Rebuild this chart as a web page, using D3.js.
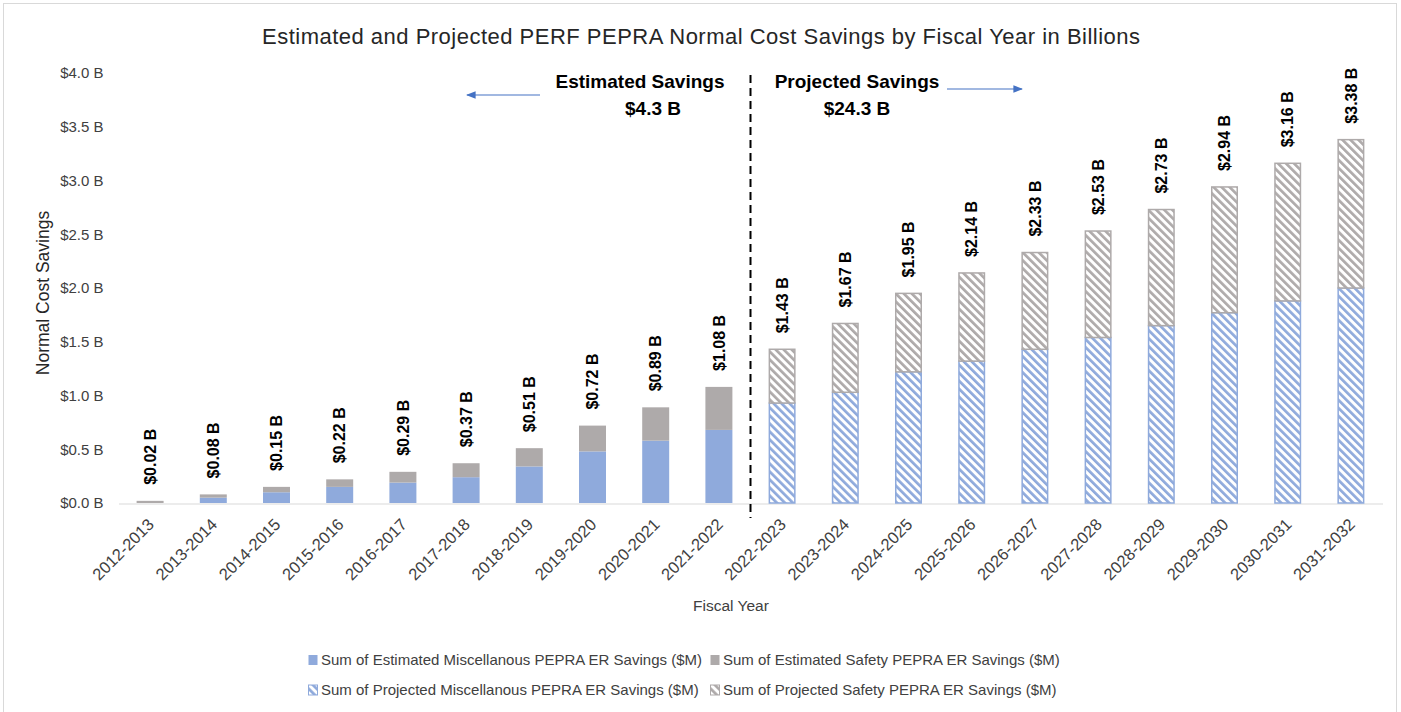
<!DOCTYPE html>
<html lang="en">
<head>
<meta charset="UTF-8">
<title>PEPRA Normal Cost Savings</title>
<script src="https://d3js.org/d3.v7.min.js"></script>
<style>
    body { margin: 0; background: #fff; }
    text { font-family: "Liberation Sans", "DejaVu Sans", sans-serif; }
</style>
</head>
<body>
<script>

    // data (billions)
    var years = ["2012-2013", "2013-2014", "2014-2015", "2015-2016", "2016-2017",
        "2017-2018", "2018-2019", "2019-2020", "2020-2021", "2021-2022",
        "2022-2023", "2023-2024", "2024-2025", "2025-2026", "2026-2027",
        "2027-2028", "2028-2029", "2029-2030", "2030-2031", "2031-2032"];
    var estimatedYears = years.slice(0, 10);
    var projectedYears = years.slice(10);

    var estimatedMisc = [0.00, 0.05, 0.10, 0.15, 0.19, 0.24, 0.34, 0.48, 0.58, 0.68];
    var estimatedSafety = [0.02, 0.03, 0.05, 0.07, 0.10, 0.13, 0.17, 0.24, 0.31, 0.40];
    var projectedMisc = [0.93, 1.03, 1.22, 1.32, 1.43, 1.54, 1.65, 1.77, 1.88, 2.00];
    var projectedSafety = [0.50, 0.64, 0.73, 0.82, 0.90, 0.99, 1.08, 1.17, 1.28, 1.38];

    var yTicks = [0, 0.5, 1, 1.5, 2, 2.5, 3, 3.5, 4];
    var legendLabels = [
        "Sum of Estimated Miscellanous PEPRA ER Savings ($M)",
        "Sum of Estimated Safety PEPRA ER Savings ($M)",
        "Sum of Projected Miscellanous PEPRA ER Savings ($M)",
        "Sum of Projected Safety PEPRA ER Savings ($M)"];

    var blue = "#8faadc", grey = "#aeaaaa";

    var svg = d3.select("body").append("svg")
        .attr("width", 1401)
        .attr("height", 712);

    // hatch patterns for projected series
    var defs = svg.append("defs");
    [["hatchBlue", blue], ["hatchGrey", grey]].forEach(function (p) {
        var pat = defs.append("pattern")
            .attr("id", p[0])
            .attr("patternUnits", "userSpaceOnUse")
            .attr("width", 5.66)
            .attr("height", 10)
            .attr("patternTransform", "rotate(-45)");
        pat.append("rect").attr("width", 5.66).attr("height", 10).attr("fill", "#fff");
        pat.append("rect").attr("width", 2.7).attr("height", 10).attr("fill", p[1]);
    });

    // chart border
    svg.append("rect")
        .attr("x", 3.5).attr("y", 3.5)
        .attr("width", 1393).attr("height", 712)
        .attr("fill", "none")
        .attr("stroke", "#d9d9d9");

    var x = d3.scaleBand()
        .domain(years)
        .range([118.5, 1382.5])
        .paddingInner(0.573)
        .paddingOuter(0.2865);

    var y = d3.scaleLinear()
        .domain([0, 4])
        .range([503, 73]);

    // title
    svg.append("text")
        .attr("x", 701).attr("y", 44)
        .attr("text-anchor", "middle")
        .attr("font-size", "22px")
        .attr("textLength", 878)
        .attr("lengthAdjust", "spacing")
        .attr("fill", "#262626")
        .text("Estimated and Projected PERF PEPRA Normal Cost Savings by Fiscal Year in Billions");

    // y axis
    var yAxis = svg.append("g")
        .attr("transform", "translate(118.5,0)")
        .call(d3.axisLeft(y).tickValues(yTicks).tickSize(0).tickPadding(15)
            .tickFormat(function (d) { return "$" + d.toFixed(1) + " B"; }));
    yAxis.select(".domain").remove();
    yAxis.selectAll("text")
        .attr("font-size", "15px")
        .attr("fill", "#404040")
        .style("font-family", "Liberation Sans, sans-serif");

    svg.append("text")
        .attr("transform", "translate(49,293) rotate(-90)")
        .attr("text-anchor", "middle")
        .attr("font-size", "17.5px")
        .attr("fill", "#262626")
        .text("Normal Cost Savings");

    // x axis
    var xAxis = svg.append("g")
        .attr("transform", "translate(0,503.5)")
        .call(d3.axisBottom(x).tickSize(0).tickSizeOuter(0));
    xAxis.select(".domain").attr("stroke", "#d9d9d9");
    xAxis.selectAll("text")
        .attr("font-size", "16.5px")
        .attr("fill", "#404040")
        .attr("text-anchor", "end")
        .attr("y", 0)
        .attr("dy", 0)
        .attr("transform", "translate(5,22) rotate(-45)")
        .style("font-family", "Liberation Sans, sans-serif");

    svg.append("text")
        .attr("x", 731).attr("y", 611)
        .attr("text-anchor", "middle")
        .attr("font-size", "15.5px")
        .attr("fill", "#404040")
        .text("Fiscal Year");

    // stacked bars
    var estRows = estimatedYears.map(function (yr, i) {
        return { year: yr, misc: estimatedMisc[i], safety: estimatedSafety[i] };
    });
    var projRows = projectedYears.map(function (yr, i) {
        return { year: yr, misc: projectedMisc[i], safety: projectedSafety[i] };
    });
    var stack = d3.stack().keys(["misc", "safety"]);

    var estColors = { misc: blue, safety: grey };
    var projFills = { misc: "url(#hatchBlue)", safety: "url(#hatchGrey)" };

    var bw = x.bandwidth();

    svg.append("g").selectAll("g")
        .data(stack(estRows))
        .join("g")
        .attr("fill", function (s) { return estColors[s.key]; })
        .selectAll("rect")
        .data(function (s) { return s; })
        .join("rect")
        .attr("x", function (d) { return x(d.data.year); })
        .attr("y", function (d) { return y(d[1]); })
        .attr("width", bw)
        .attr("height", function (d) { return y(d[0]) - y(d[1]); });

    svg.append("g").selectAll("g")
        .data(stack(projRows))
        .join("g")
        .attr("fill", function (s) { return projFills[s.key]; })
        .attr("stroke", function (s) { return estColors[s.key]; })
        .attr("stroke-width", 1.5)
        .selectAll("rect")
        .data(function (s) { return s; })
        .join("rect")
        .attr("x", function (d) { return x(d.data.year) + 0.75; })
        .attr("y", function (d) { return y(d[1]); })
        .attr("width", bw - 1.5)
        .attr("height", function (d) { return y(d[0]) - y(d[1]); });

    // total labels
    var totals = estRows.concat(projRows);
    svg.append("g").selectAll("text")
        .data(totals)
        .join("text")
        .attr("transform", function (d) {
            return "translate(" + (x(d.year) + bw / 2) + "," + (y(d.misc + d.safety) - 16) + ") rotate(-90)";
        })
        .attr("dy", "0.35em")
        .attr("font-size", "16px")
        .attr("font-weight", "bold")
        .attr("fill", "#000")
        .text(function (d) { return "$" + (d.misc + d.safety).toFixed(2) + " B"; });

    // divider between estimated and projected
    var divX = x(projectedYears[0]) - (x.step() - bw) / 2;
    svg.append("line")
        .attr("x1", divX).attr("x2", divX)
        .attr("y1", 75).attr("y2", 518)
        .attr("stroke", "#000")
        .attr("stroke-width", 2)
        .attr("stroke-dasharray", "8,5");

    // annotations
    defs.append("marker")
        .attr("id", "arrow")
        .attr("viewBox", "0 0 10 10")
        .attr("refX", 9).attr("refY", 5)
        .attr("markerWidth", 8).attr("markerHeight", 8)
        .attr("orient", "auto")
        .append("path")
        .attr("d", "M0,1L10,5L0,9Z")
        .attr("fill", "#4472c4");

    var notes = [
        { t1: "Estimated Savings", t2: "$4.3 B", cx: 640, cx2: 653 },
        { t1: "Projected Savings", t2: "$24.3 B", cx: 857, cx2: 857 }];
    notes.forEach(function (n) {
        svg.append("text").attr("x", n.cx).attr("y", 88)
            .attr("text-anchor", "middle").attr("font-size", "19px")
            .attr("font-weight", "bold").attr("fill", "#000").text(n.t1);
        svg.append("text").attr("x", n.cx2).attr("y", 115)
            .attr("text-anchor", "middle").attr("font-size", "19px")
            .attr("font-weight", "bold").attr("fill", "#000").text(n.t2);
    });

    svg.append("line")
        .attr("x1", 540).attr("y1", 95).attr("x2", 467).attr("y2", 95)
        .attr("stroke", "#4472c4").attr("stroke-width", 1.2)
        .attr("marker-end", "url(#arrow)");
    svg.append("line")
        .attr("x1", 947).attr("y1", 89).attr("x2", 1022).attr("y2", 89)
        .attr("stroke", "#4472c4").attr("stroke-width", 1.2)
        .attr("marker-end", "url(#arrow)");

    // legend
    var legendFills = [blue, grey, "url(#hatchBlue)", "url(#hatchGrey)"];
    var legendStrokes = [null, null, blue, grey];
    var legend = svg.append("g").selectAll("g")
        .data(legendLabels)
        .join("g")
        .attr("transform", function (d, i) {
            return "translate(" + (i % 2 === 0 ? 308 : 710) + "," + (i < 2 ? 660 : 690) + ")";
        });
    legend.append("rect")
        .attr("x", 0.5).attr("y", -5)
        .attr("width", 9).attr("height", 10)
        .attr("fill", function (d, i) { return legendFills[i]; })
        .attr("stroke", function (d, i) { return legendStrokes[i]; })
        .attr("stroke-width", 1);
    legend.append("text")
        .attr("x", 13).attr("dy", "0.35em")
        .attr("font-size", "15px")
        .attr("fill", "#404040")
        .text(function (d) { return d; });

</script>
</body>
</html>
